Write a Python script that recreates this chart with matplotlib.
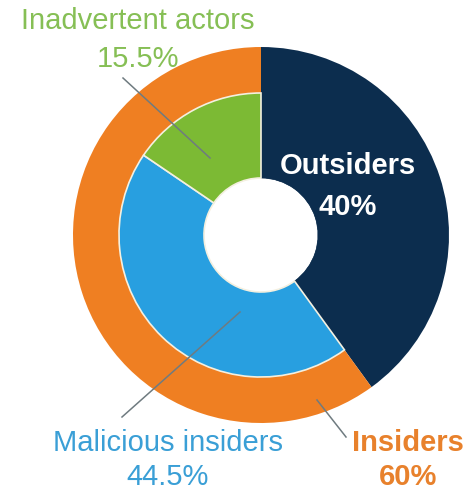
import matplotlib
matplotlib.use('Agg')
import matplotlib.pyplot as plt

# outer ring: outsiders vs insiders
outer_labels = ['Outsiders', 'Insiders']
outer_values = [40, 60]
# inner ring: insiders split in two
inner_labels = ['Outsiders', 'Malicious insiders', 'Inadvertent actors']
inner_values = [40, 44.5, 15.5]

navy = '#0c2d4e'
orange = '#ef7f22'
green = '#7cba34'
blue = '#289fe0'

plt.rcParams['font.family'] = ['Liberation Sans', 'DejaVu Sans']

W, H = 467, 493
fig = plt.figure(figsize=(W / 100, H / 100), dpi=100)
ax = fig.add_axes([0, 0, 1, 1])
ax.set_xlim(0, W)
ax.set_ylim(0, H)
ax.set_aspect('equal')
ax.axis('off')

cx, cy = 261, H - 235
r_out, r_mid, r_hole = 188, 142, 57

ax.pie(outer_values, colors=[navy, orange], startangle=90, counterclock=False,
       radius=r_out, center=(cx, cy),
       wedgeprops=dict(width=r_out - r_hole, linewidth=0))
wedges, _ = ax.pie(inner_values, colors=[navy, blue, green], startangle=90,
                   counterclock=False, radius=r_mid, center=(cx, cy),
                   wedgeprops=dict(width=r_mid - r_hole, edgecolor='#f4f0e0',
                                   linewidth=1.2))
wedges[0].set_edgecolor(navy)
wedges[0].set_linewidth(0.5)
wedges[0].set_zorder(wedges[1].get_zorder() - 0.1)
ax.set_xlim(0, W)
ax.set_ylim(0, H)

line_c = '#6f7b80'
# leader lines
ax.plot([123, 210], [H - 78, H - 158], color=line_c, lw=1.1)
ax.plot([122, 240], [H - 417, H - 312], color=line_c, lw=1.1)
ax.plot([346, 317], [H - 437, H - 400], color=line_c, lw=1.1)

fs = 21
ax.text(138, H - 21, 'Inadvertent actors', color='#86bf55', fontsize=fs,
        ha='center', va='center')
ax.text(138, H - 59, '15.5%', color='#86bf55', fontsize=fs,
        ha='center', va='center')
ax.text(168, H - 443, 'Malicious insiders', color='#3a9fd6', fontsize=fs,
        ha='center', va='center')
ax.text(168, H - 477, '44.5%', color='#3a9fd6', fontsize=fs,
        ha='center', va='center')
ax.text(408, H - 443, 'Insiders', color='#e8812c', fontsize=fs,
        fontweight='bold', ha='center', va='center')
ax.text(408, H - 477, '60%', color='#e8812c', fontsize=fs,
        fontweight='bold', ha='center', va='center')
ax.text(348, H - 166, 'Outsiders', color='white', fontsize=fs,
        fontweight='bold', ha='center', va='center')
ax.text(348, H - 207, '40%', color='white', fontsize=fs,
        fontweight='bold', ha='center', va='center')

fig.savefig('out.png', dpi=100)
